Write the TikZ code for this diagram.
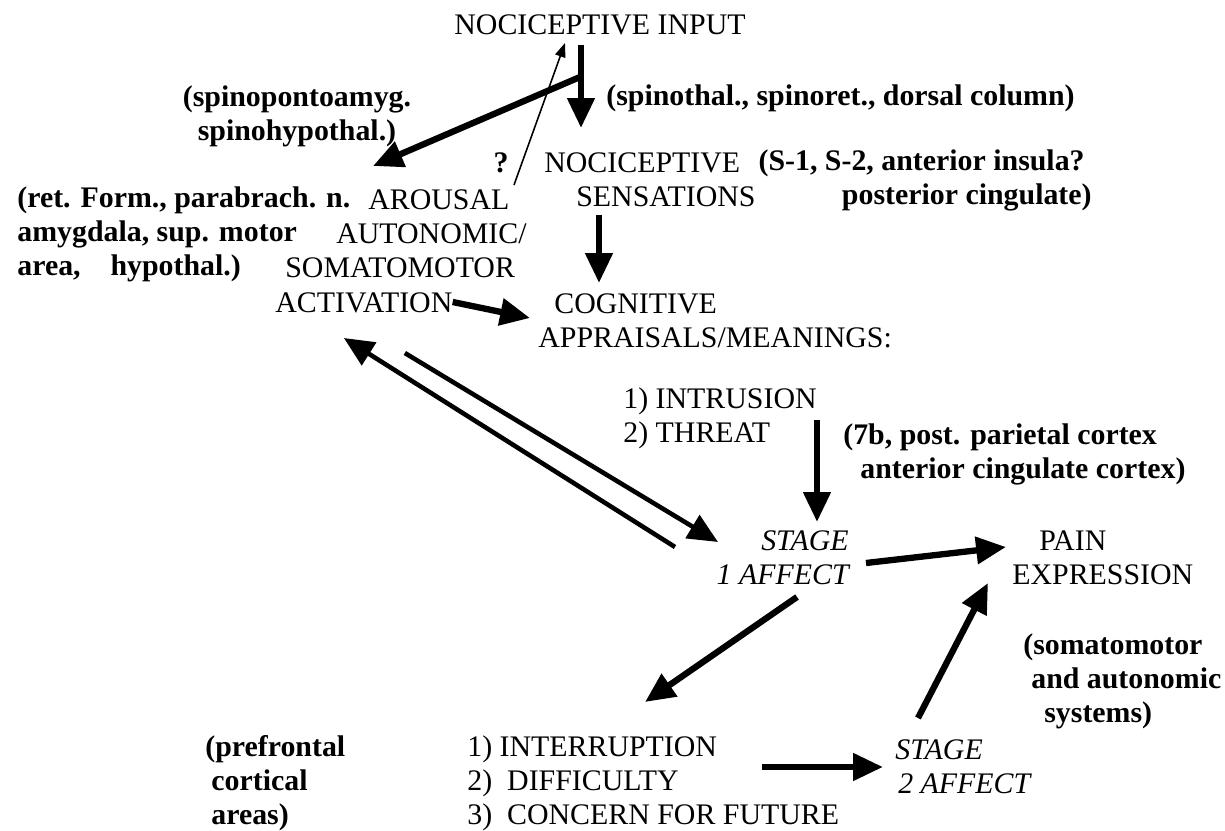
\documentclass[tikz,border=0pt]{standalone}
\usepackage{fontspec}
\setmainfont{Liberation Serif}
\usetikzlibrary{arrows.meta,calc}
\newcommand{\diagfont}{\fontsize{17}{19.4}\selectfont}

\begin{document}
\begin{tikzpicture}[x=0.02cm, y=-0.02cm, line join=miter, >={Triangle[length=17pt,width=15pt]},
	txt/.style={inner sep=0pt, align=left, anchor=west, font=\diagfont},
	note/.style={txt, font=\diagfont\bfseries},
	stage/.style={txt, font=\diagfont\itshape},
	big/.style={->, line width=3.6pt},
	mid/.style={->, line width=2.6pt},
	thin/.style={-{Triangle[length=8pt,width=6pt]}, line width=0.9pt}]
	\useasboundingbox (0,0) rectangle (1225,831);
	\node[txt, anchor=center] (input) at (600,25) {NOCICEPTIVE INPUT};
	\node[note, align=center, anchor=center] (spamyg) at (297,116) {(spinopontoamyg.\\spinohypothal.)};
	\node[note] (spthal) at (606,98) {(spinothal., spinoret., dorsal column)};
	\node[note, anchor=center] (q) at (501,163) {?};
	\node[txt] (sens) at (544,180) {NOCICEPTIVE\\\hspace*{0.64cm}SENSATIONS};
	\node[note, align=right, anchor=east] (sensnote) at (1092,180) {(S-1, S-2, anterior insula?\hspace*{0.14cm}\\posterior cingulate)};
	\node[note] (arousnote) at (17,234) {(ret. Form., parabrach. n.\\amygdala, sup. motor\\area,\quad hypothal.)};
	\node[txt] (arousal) at (285,234) {\hspace*{1.66cm}AROUSAL\\\hspace*{1.02cm}AUTONOMIC/\\SOMATOMOTOR};
	\node[txt] (activ) at (275,303) {ACTIVATION};
	\node[txt] (cogn) at (538,321) {\hspace*{0.32cm}COGNITIVE\\APPRAISALS/MEANINGS:};
	\node[txt] (threat) at (623,418) {1) INTRUSION\\2) THREAT};
	\node[note] (parietal) at (843,454) {(7b, post. parietal cortex\\\hspace*{0.34cm}anterior cingulate cortex)};
	\node[stage, align=right, anchor=east] (stage1) at (849,558) {STAGE\\1 AFFECT};
	\node[txt] (pain) at (1012,558) {\hspace*{0.54cm}PAIN\\EXPRESSION};
	\node[note] (systems) at (1023,681) {(somatomotor\\\hspace*{0.16cm}and autonomic\\\hspace*{0.42cm}systems)};
	\node[note] (prefront) at (205,783) {(prefrontal\\\hspace*{0.12cm}cortical\\\hspace*{0.12cm}areas)};
	\node[txt] (interr) at (467,783) {1) INTERRUPTION\\2)\hspace{0.15cm} DIFFICULTY\\3)\hspace{0.15cm} CONCERN FOR FUTURE};
	\node[stage] (stage2) at (895,767) {STAGE\\\hspace*{0.06cm}2 AFFECT};

	\draw[big] ($(input)+(-19,20)$) -- ($(sens.west)+(37,-52)$);
	\draw[big] ($(input)+(-20,52)$) -- ($(arousal.west)+(88,-68)$);
	\draw[thin] ($(q)+(13,22)$) -- ($(input)+(-35,18)$);
	\draw[big] ($(sens.west)+(55,35)$) -- ($(cogn.west)+(61,-38)$);
	\draw[big] ($(activ.east)+(0,-1)$) -- ($(cogn.west)+(-8,-3)$);
	\draw[mid] ($(stage1.east)+(-174,-11)$) -- ($(activ)+(-20,35)$);
	\draw[mid] ($(activ)+(41,50)$) -- ($(stage1.east)+(-131,-16)$);
	\draw[big] ($(threat.west)+(194,2)$) -- ($(stage1.east)+(-32,-36)$);
	\draw[big] ($(stage1.east)+(17,5)$) -- ($(pain.west)+(-6,-11)$);
	\draw[big] ($(stage1.east)+(-52,39)$) -- ($(interr.west)+(178,-81)$);
	\draw[big] ($(interr.west)+(295,-16)$) -- ($(stage2.west)+(-12,0)$);
	\draw[big] ($(stage2.west)+(23,-49)$) -- ($(pain.west)+(-24,25)$);
\end{tikzpicture}
\end{document}
